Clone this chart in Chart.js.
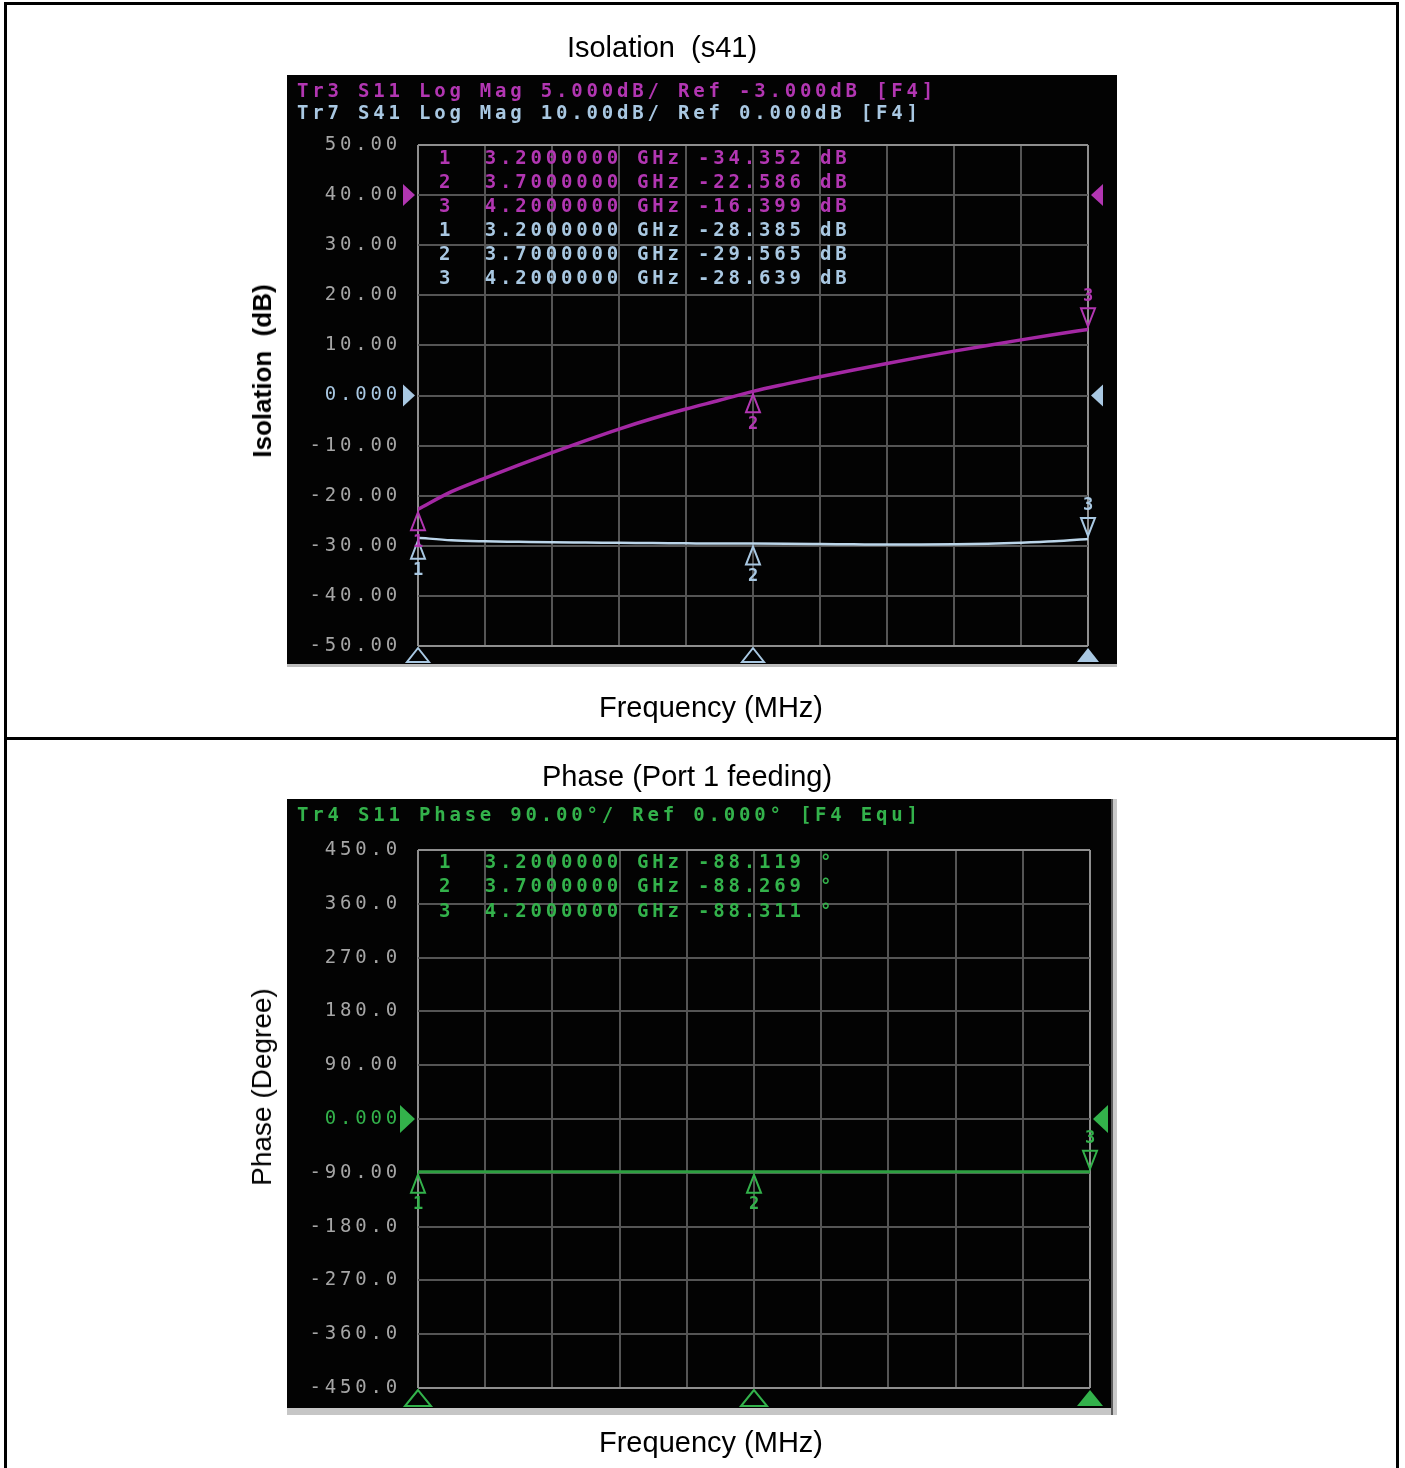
<!DOCTYPE html>
<html>
<head>
<meta charset="utf-8">
<title>Isolation and phase</title>
<script src="https://cdn.jsdelivr.net/npm/chart.js@4.4.1/dist/chart.umd.min.js"></script>
<style>
  html, body { margin: 0; padding: 0; background: #fff; }
  body { width: 1405px; height: 1468px; position: relative; overflow: hidden;
         font-family: "Liberation Sans", Arial, sans-serif; }
  .rule { position: absolute; background: #000; }
  .cap { position: absolute; font-size: 29px; color: #000; white-space: pre;
         transform: translate(-50%, -50%); line-height: 1; }
  .vcap { position: absolute; color: #000; white-space: pre; line-height: 1;
          transform: translate(-50%, -50%) rotate(-90deg); }
  canvas { position: absolute; left: 0; }
</style>
</head>
<body>
<!-- table rules -->
<div class="rule" style="left:4px;top:2px;width:1395px;height:3px"></div>
<div class="rule" style="left:4px;top:2px;width:3px;height:1466px"></div>
<div class="rule" style="left:1396px;top:2px;width:3px;height:1466px"></div>
<div class="rule" style="left:4px;top:737px;width:1395px;height:3px"></div>

<canvas id="iso" width="1405" height="739" style="top:0px"></canvas>
<canvas id="phase" width="1405" height="729" style="top:739px"></canvas>

<div class="cap" style="left:662px;top:47px">Isolation  (s41)</div>
<div class="vcap" style="left:262px;top:371px;font-size:26px;font-weight:bold">Isolation  (dB)</div>
<div class="cap" style="left:711px;top:707px">Frequency (MHz)</div>

<div class="cap" style="left:687px;top:776px">Phase (Port 1 feeding)</div>
<div class="vcap" style="left:262px;top:1087px;font-size:28px">Phase (Degree)</div>
<div class="cap" style="left:711px;top:1442px">Frequency (MHz)</div>

<script>
// ---- measured sweep, 3.2 - 4.2 GHz ----
const freqMHz = [3200, 3250, 3300, 3350, 3400, 3450, 3500, 3550, 3600, 3650, 3700,
                 3750, 3800, 3850, 3900, 3950, 4000, 4050, 4100, 4150, 4200];
const s11LogMagDb = [-34.352, -32.6, -31.25, -29.95, -28.7, -27.5, -26.35, -25.3, -24.35, -23.48, -22.586,
                     -21.84, -21.13, -20.45, -19.8, -19.17, -18.57, -18.0, -17.45, -16.92, -16.399];
const s41LogMagDb = [-28.385, -28.9, -29.1, -29.2, -29.3, -29.35, -29.4, -29.45, -29.5, -29.55, -29.565,
                     -29.6, -29.65, -29.7, -29.75, -29.75, -29.7, -29.6, -29.4, -29.1, -28.639];
const s11PhaseDeg = [-88.119, -88.14, -88.16, -88.18, -88.19, -88.21, -88.22, -88.23, -88.25, -88.26, -88.269,
                     -88.27, -88.28, -88.28, -88.29, -88.29, -88.30, -88.30, -88.31, -88.31, -88.311];

// ---- markers ----
const markerFreqMHz = [3200, 3700, 4200];
const markerFreqText = ['3.2000000', '3.7000000', '4.2000000'];
const s11MarkerDb = [-34.352, -22.586, -16.399];
const s41MarkerDb = [-28.385, -29.565, -28.639];
const phaseMarkerDeg = [-88.119, -88.269, -88.311];

// ---- trace settings ----
const s11Format = { perDiv: 5, ref: -3, refDiv: 9, divs: 10 };
const s41Format = { perDiv: 10, ref: 0, refDiv: 5, divs: 10 };
const phaseFormat = { perDiv: 90, ref: 0, refDiv: 5, divs: 10 };

// ---- tick labels ----
const isoTickValues = [50, 40, 30, 20, 10, 0, -10, -20, -30, -40, -50];
const isoTickLabels = ['50.00', '40.00', '30.00', '20.00', '10.00', '0.000',
                       '-10.00', '-20.00', '-30.00', '-40.00', '-50.00'];
const phaseTickValues = [450, 360, 270, 180, 90, 0, -90, -180, -270, -360, -450];
const phaseTickLabels = ['450.0', '360.0', '270.0', '180.0', '90.00', '0.000',
                         '-90.00', '-180.0', '-270.0', '-360.0', '-450.0'];

// ---- instrument annotation lines ----
const isoHeader = ['Tr3 S11 Log Mag 5.000dB/ Ref -3.000dB [F4]',
                   'Tr7 S41 Log Mag 10.00dB/ Ref 0.000dB [F4]'];
const phaseHeader = ['Tr4 S11 Phase 90.00°/ Ref 0.000° [F4 Equ]'];

// colours
const MAGENTA_TXT = '#b236b2', MAGENTA_LINE = '#a428a4';
const BLUE_TXT = '#a9c8e2', BLUE_LINE = '#bcd6ea';
const GREEN_TXT = '#33b24b', GREEN_LINE = '#2ea041';
const TICK_GREY = '#a6a6a6';
const MONO = '"DejaVu Sans Mono", "Liberation Mono", monospace';
const SCREEN_FONT = 'bold 19px ' + MONO;

function axisRange(f) {
  const min = f.ref - f.refDiv * f.perDiv;
  return { min, max: min + f.divs * f.perDiv };
}
function markerRow(i, value, unit) {
  return (i + 1) + '  ' + markerFreqText[i] + ' GHz ' + value.toFixed(3) + ' ' + unit;
}
function points(ys) { return freqMHz.map((f, i) => ({ x: f, y: ys[i] })); }

function tri(ctx, pts, color, filled) {
  ctx.beginPath();
  ctx.moveTo(pts[0][0], pts[0][1]);
  ctx.lineTo(pts[1][0], pts[1][1]);
  ctx.lineTo(pts[2][0], pts[2][1]);
  ctx.closePath();
  if (filled) { ctx.fillStyle = color; ctx.fill(); }
  else { ctx.strokeStyle = color; ctx.lineWidth = 2; ctx.stroke(); }
}

// Draws the analyzer screen: black face, annotation text, marker table and marker glyphs
const vnaScreen = {
  id: 'vnaScreen',
  beforeDraw(chart, args, o) {
    const ctx = chart.ctx;
    ctx.save();
    ctx.fillStyle = o.screen.color;
    ctx.fillRect(o.screen.x, o.screen.y, o.screen.w, o.screen.h);
    (o.strips || []).forEach(s => { ctx.fillStyle = s.color; ctx.fillRect(s.x, s.y, s.w, s.h); });
    ctx.restore();
    ctx.letterSpacing = o.letterSpacing;
  },
  afterDraw(chart, args, o) {
    const ctx = chart.ctx;
    const area = chart.chartArea;
    ctx.save();
    ctx.letterSpacing = o.letterSpacing;
    ctx.font = o.font;
    ctx.textBaseline = 'middle';
    ctx.textAlign = 'left';
    o.header.forEach((h, i) => { ctx.fillStyle = h.color; ctx.fillText(h.text, o.headerX, o.headerY + i * o.headerDy); });
    o.table.forEach((r, i) => { ctx.fillStyle = r.color; ctx.fillText(r.text, o.tableX, o.tableY + i * o.tableDy); });
    ctx.letterSpacing = '0px';

    // reference level arrows on both sides of the grid
    o.refs.forEach(r => {
      const y = chart.scales[r.axis].getPixelForValue(r.value);
      const h = r.h, w = r.w;
      tri(ctx, [[area.left - 3, y], [area.left - 3 - w, y - h], [area.left - 3 - w, y + h]], r.color, true);
      tri(ctx, [[area.right + 3, y], [area.right + 3 + w, y - h], [area.right + 3 + w, y + h]], r.color, true);
    });

    // stimulus markers below the grid
    const xs = chart.scales.x;
    o.stim.freqs.forEach((f, i) => {
      const x = xs.getPixelForValue(f);
      const y0 = area.bottom + 2, hw = o.stim.hw, h = o.stim.h;
      tri(ctx, [[x, y0], [x - hw, y0 + h], [x + hw, y0 + h]], o.stim.color, i === o.stim.freqs.length - 1);
    });

    // trace markers
    ctx.font = 'bold 17px ' + MONO;
    ctx.textAlign = 'center';
    o.markers.forEach(m => {
      const ys = chart.scales[m.axis];
      m.freqs.forEach((f, i) => {
        const x = xs.getPixelForValue(f);
        const y = ys.getPixelForValue(m.values[i]);
        const s = m.above[i] ? -1 : 1;
        tri(ctx, [[x, y + 3 * s], [x - 7, y + 21 * s], [x + 7, y + 21 * s]], m.color, false);
        ctx.fillStyle = m.color;
        ctx.fillText(String(i + 1), x, y + 33 * s);
      });
    });
    ctx.restore();
  }
};

function gridColor(edgeValues) {
  return c => (c.tick && edgeValues.includes(c.tick.value)) ? '#8f8f8f' : '#555555';
}
function tickLabel(values, labels) {
  return v => { const i = values.indexOf(v); return i < 0 ? '' : labels[i]; };
}
function fixY(w) { return s => { s.width = w; s.paddingTop = 0; s.paddingBottom = 0; }; }
function fixX(s) { s.height = 0; s.paddingLeft = 0; s.paddingRight = 0; }

const s41Range = axisRange(s41Format);
const s11Range = axisRange(s11Format);
const phRange = axisRange(phaseFormat);

// ---------- Isolation panel ----------
new Chart(document.getElementById('iso'), {
  type: 'line',
  data: {
    datasets: [
      { label: 'S41', data: points(s41LogMagDb), yAxisID: 'y', borderColor: BLUE_LINE,
        borderWidth: 2.5, pointRadius: 0, cubicInterpolationMode: 'monotone' },
      { label: 'S11', data: points(s11LogMagDb), yAxisID: 'yS11', borderColor: MAGENTA_LINE,
        borderWidth: 3.5, pointRadius: 0, cubicInterpolationMode: 'monotone' }
    ]
  },
  options: {
    responsive: false, animation: false, events: [], devicePixelRatio: 1,
    layout: { padding: { left: 288, right: 317, top: 145, bottom: 93 } },
    plugins: {
      legend: { display: false }, tooltip: { enabled: false },
      vnaScreen: {
        screen: { x: 287, y: 75, w: 830, h: 589, color: '#030303' },
        strips: [{ x: 287, y: 664, w: 830, h: 3, color: '#bdbdbd' }],
        font: SCREEN_FONT, letterSpacing: '3.8px',
        header: [{ text: isoHeader[0], color: MAGENTA_TXT }, { text: isoHeader[1], color: BLUE_TXT }],
        headerX: 297, headerY: 92, headerDy: 22,
        table: [
          ...s11MarkerDb.map((v, i) => ({ text: markerRow(i, v, 'dB'), color: MAGENTA_TXT })),
          ...s41MarkerDb.map((v, i) => ({ text: markerRow(i, v, 'dB'), color: BLUE_TXT }))
        ],
        tableX: 439, tableY: 159, tableDy: 24.1,
        refs: [
          { axis: 'yS11', value: s11Format.ref, color: MAGENTA_TXT, h: 11, w: 12 },
          { axis: 'y', value: s41Format.ref, color: BLUE_TXT, h: 11, w: 12 }
        ],
        stim: { freqs: markerFreqMHz, color: BLUE_TXT, hw: 11, h: 14 },
        markers: [
          { axis: 'y', freqs: markerFreqMHz, values: s41MarkerDb, color: BLUE_TXT, above: [false, false, true] },
          { axis: 'yS11', freqs: markerFreqMHz, values: s11MarkerDb, color: MAGENTA_TXT, above: [false, false, true] }
        ]
      }
    },
    scales: {
      x: { type: 'linear', min: 3200, max: 4200,
           ticks: { stepSize: 100, display: false },
           grid: { color: gridColor([3200, 4200]), lineWidth: 2, drawTicks: false },
           border: { display: false }, afterFit: fixX },
      y: { type: 'linear', position: 'left', min: s41Range.min, max: s41Range.max,
           ticks: { stepSize: s41Format.perDiv, callback: tickLabel(isoTickValues, isoTickLabels),
                    color: c => c.tick && c.tick.value === s41Format.ref ? BLUE_TXT : TICK_GREY,
                    font: { family: MONO, size: 19 }, padding: 17 },
           grid: { color: gridColor([s41Range.min, s41Range.max]), lineWidth: 2, drawTicks: false },
           border: { display: false }, afterFit: fixY(130) },
      yS11: { type: 'linear', position: 'right', display: false, min: s11Range.min, max: s11Range.max }
    }
  },
  plugins: [vnaScreen]
});

// ---------- Phase panel ----------
new Chart(document.getElementById('phase'), {
  type: 'line',
  data: {
    datasets: [
      { label: 'S11 phase', data: points(s11PhaseDeg), yAxisID: 'y', borderColor: GREEN_LINE,
        borderWidth: 3, pointRadius: 0, cubicInterpolationMode: 'monotone' }
    ]
  },
  options: {
    responsive: false, animation: false, events: [], devicePixelRatio: 1,
    layout: { padding: { left: 288, right: 315, top: 111, bottom: 80 } },
    plugins: {
      legend: { display: false }, tooltip: { enabled: false },
      vnaScreen: {
        screen: { x: 287, y: 60, w: 830, h: 609, color: '#030303' },
        strips: [
          { x: 287, y: 669, w: 830, h: 7, color: '#c6c6c6' },
          { x: 1111, y: 60, w: 2, h: 616, color: '#5e5e5e' },
          { x: 1113, y: 60, w: 4, h: 616, color: '#c9c9c9' }
        ],
        font: SCREEN_FONT, letterSpacing: '3.8px',
        header: [{ text: phaseHeader[0], color: GREEN_TXT }],
        headerX: 297, headerY: 77, headerDy: 22,
        table: phaseMarkerDeg.map((v, i) => ({ text: markerRow(i, v, '°'), color: GREEN_TXT })),
        tableX: 439, tableY: 124, tableDy: 24.5,
        refs: [{ axis: 'y', value: phaseFormat.ref, color: GREEN_TXT, h: 14, w: 15 }],
        stim: { freqs: markerFreqMHz, color: GREEN_TXT, hw: 13, h: 16 },
        markers: [
          { axis: 'y', freqs: markerFreqMHz, values: phaseMarkerDeg, color: GREEN_TXT, above: [false, false, true] }
        ]
      }
    },
    scales: {
      x: { type: 'linear', min: 3200, max: 4200,
           ticks: { stepSize: 100, display: false },
           grid: { color: gridColor([3200, 4200]), lineWidth: 2, drawTicks: false },
           border: { display: false }, afterFit: fixX },
      y: { type: 'linear', position: 'left', min: phRange.min, max: phRange.max,
           ticks: { stepSize: phaseFormat.perDiv, callback: tickLabel(phaseTickValues, phaseTickLabels),
                    color: c => c.tick && c.tick.value === phaseFormat.ref ? GREEN_TXT : TICK_GREY,
                    font: { family: MONO, size: 19 }, padding: 17 },
           grid: { color: gridColor([phRange.min, phRange.max]), lineWidth: 2, drawTicks: false },
           border: { display: false }, afterFit: fixY(130) }
    }
  },
  plugins: [vnaScreen]
});
</script>
</body>
</html>
